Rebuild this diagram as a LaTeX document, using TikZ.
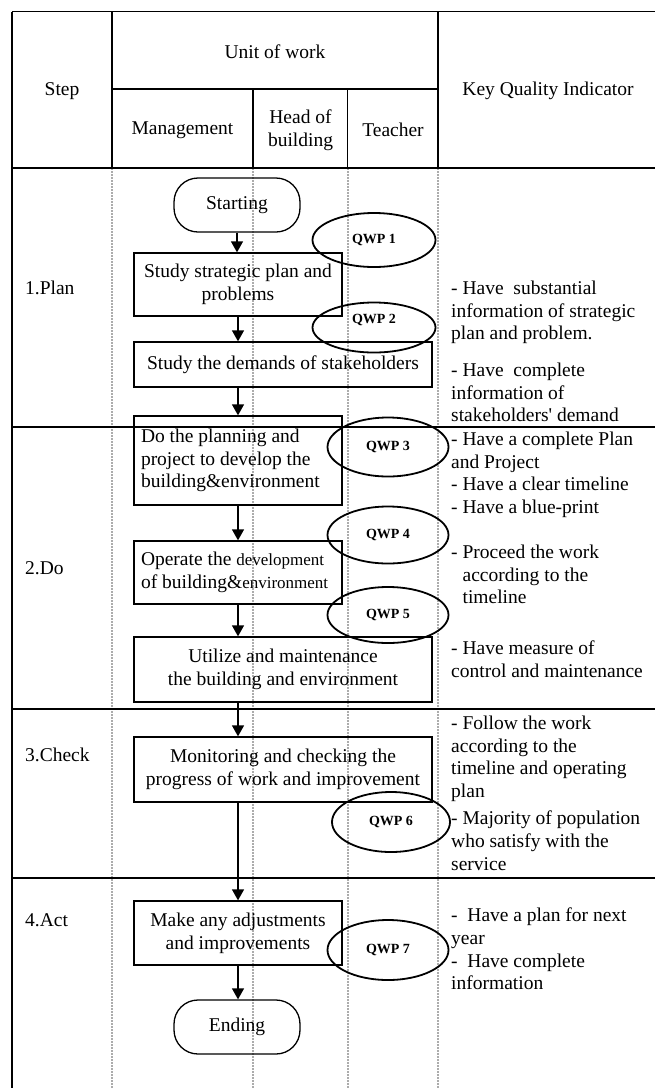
\documentclass[tikz,border=0pt]{standalone}
\usepackage{fontspec}
\newfontfamily\lsr{Liberation Serif}
\usetikzlibrary{arrows.meta,shapes.geometric}
\begin{document}
\begin{tikzpicture}[x=1pt,y=-1pt,
  every node/.style={font=\lsr\fontsize{19.5}{22.8}\selectfont},
  grid/.style={line width=1.6pt},
  lane/.style={draw=gray!65, line width=1.2pt, dash pattern=on 2pt off 1pt},
  proc/.style={draw, line width=1.3pt, inner sep=0pt, align=center},
  term/.style={draw, line width=1.3pt, rounded corners=24pt, minimum width=126pt, minimum height=54pt, inner sep=0pt},
  qwp/.style={draw, ellipse, line width=1.8pt, inner sep=0pt, font=\lsr\bfseries\fontsize{14}{16}\selectfont},
  flow/.style={line width=1.3pt, -{Triangle[width=12pt,length=11pt]}},
  kqi/.style={anchor=north west, inner sep=0pt, align=flush left},
  hdr/.style={inner sep=0pt, align=center},
  steplbl/.style={anchor=west, inner sep=0pt}
]
\useasboundingbox (0,0) rectangle (655,1088);
% swimlane separators
\draw[lane] (112,168) -- (112,1088);
\draw[lane] (253,168) -- (253,1088);
\draw[lane] (348,168) -- (348,1088);
\draw[lane] (438,168) -- (438,1088);
% table frame
\draw[grid] (12,11.5) -- (655,11.5);
\draw[grid] (12,11.5) -- (12,1088);
\draw[grid] (112,11.5) -- (112,168);
\draw[grid] (438,11.5) -- (438,168);
\draw[grid] (112,89) -- (438,89);
\draw[grid] (253,89) -- (253,168);
\draw[grid] (347.5,89) -- (347.5,168);
\draw[grid] (12,168) -- (655,168);
\draw[grid] (12,427) -- (655,427);
\draw[grid] (12,709) -- (655,709);
\draw[grid] (12,878) -- (655,878);
% header
\node[hdr] (hstep) at (62,91) {Step};
\node[hdr] (hunit) at (275,52) {Unit of work};
\node[hdr] (hkqi) at (548,91) {Key Quality Indicator};
\node[hdr] (hman) at (182.5,130) {Management};
\node[hdr] (hhead) at (300.5,130) {Head of\\building};
\node[hdr] (htea) at (393,130) {Teacher};
% steps
\node[steplbl] (p1) at (25,288) {1.Plan};
\node[steplbl] (p2) at (25,568) {2.Do};
\node[steplbl] (p3) at (25,755) {3.Check};
\node[steplbl] (p4) at (25,920) {4.Act};
% flow
\node[term] (start) at (237,205) {Starting};
\node[proc, minimum width=208pt, minimum height=63pt] (s1) at (238,284.5) {Study strategic plan and\\problems};
\node[proc, minimum width=298pt, minimum height=45pt] (s2) at (283,364.5) {Study the demands of stakeholders};
\node[proc, minimum width=208pt, minimum height=89pt, text width=194pt, align=flush left] (s3) at (238,460.5) {Do the planning and\\project to develop the\\building\&environment};
\node[proc, minimum width=208pt, minimum height=63pt, text width=194pt, align=flush left] (s4) at (238,572.5) {Operate the {\fontsize{17}{22.8}\selectfont development}\\of building\&{\fontsize{17}{22.8}\selectfont environment}};
\node[proc, minimum width=298pt, minimum height=65pt] (s5) at (283,669.5) {Utilize and maintenance\\the building and environment};
\node[proc, minimum width=298pt, minimum height=65pt] (s6) at (283,769.5) {Monitoring and checking the\\progress of work and improvement};
\node[proc, minimum width=208pt, minimum height=64pt] (s7) at (238,933) {Make any adjustments\\and improvements};
\node[term] (end) at (237,1027) {Ending};
% quality points
\node[qwp, minimum width=123pt, minimum height=54pt] (q1) at (374,240) {QWP 1};
\node[qwp, minimum width=123pt, minimum height=50pt, text height=9.5pt, text depth=18.5pt] (q2) at (374,327.5) {QWP 2};
\node[qwp, minimum width=121pt, minimum height=59pt] (q3) at (388,447) {QWP 3};
\node[qwp, minimum width=121pt, minimum height=57pt] (q4) at (388,535) {QWP 4};
\node[qwp, minimum width=121pt, minimum height=56pt] (q5) at (388,615) {QWP 5};
\node[qwp, minimum width=118pt, minimum height=60pt] (q6) at (391,822) {QWP 6};
\node[qwp, minimum width=121pt, minimum height=60pt] (q7) at (388,950) {QWP 7};
% arrows
\draw[flow] (start.south) -- (start.south |- s1.north);
\draw[flow] (s1.south) -- (s2.north -| s1.south);
\draw[flow] (s2.south -| s1.south) -- (s3.north);
\draw[flow] (s3.south) -- (s4.north);
\draw[flow] (s4.south) -- (s5.north -| s4.south);
\draw[flow] (s5.south -| s4.south) -- (s6.north -| s4.south);
\draw[flow] (s6.south -| s7.north) -- (s7.north);
\draw[flow] (s7.south) -- (end.north -| s7.south);
% key quality indicators
\node[kqi] (k1) at (451,280.5) {- Have\ \ substantial\\information of strategic\\plan and problem.};
\node[kqi] (k2) at (451,362.5) {- Have\ \ complete\\information of\\stakeholders' demand};
\node[kqi] (k3) at (451,431.5) {- Have a complete Plan\\and Project\\- Have a clear timeline\\- Have a blue-print};
\node[kqi] (k4) at (451,544.5) {- Proceed the work\\\hspace*{11.4pt}according to the\\\hspace*{11.4pt}timeline};
\node[kqi] (k5) at (451,640.5) {- Have measure of\\control and maintenance};
\node[kqi] (k6) at (451,715.5) {- Follow the work\\according to the\\timeline and operating\\plan};
\node[kqi] (k7) at (451,810.5) {- Majority of population\\who satisfy with the\\service};
\node[kqi] (k8) at (451,907.5) {-\ \ Have a plan for next\\year\\-\ \ Have complete\\information};
\end{tikzpicture}
\end{document}
